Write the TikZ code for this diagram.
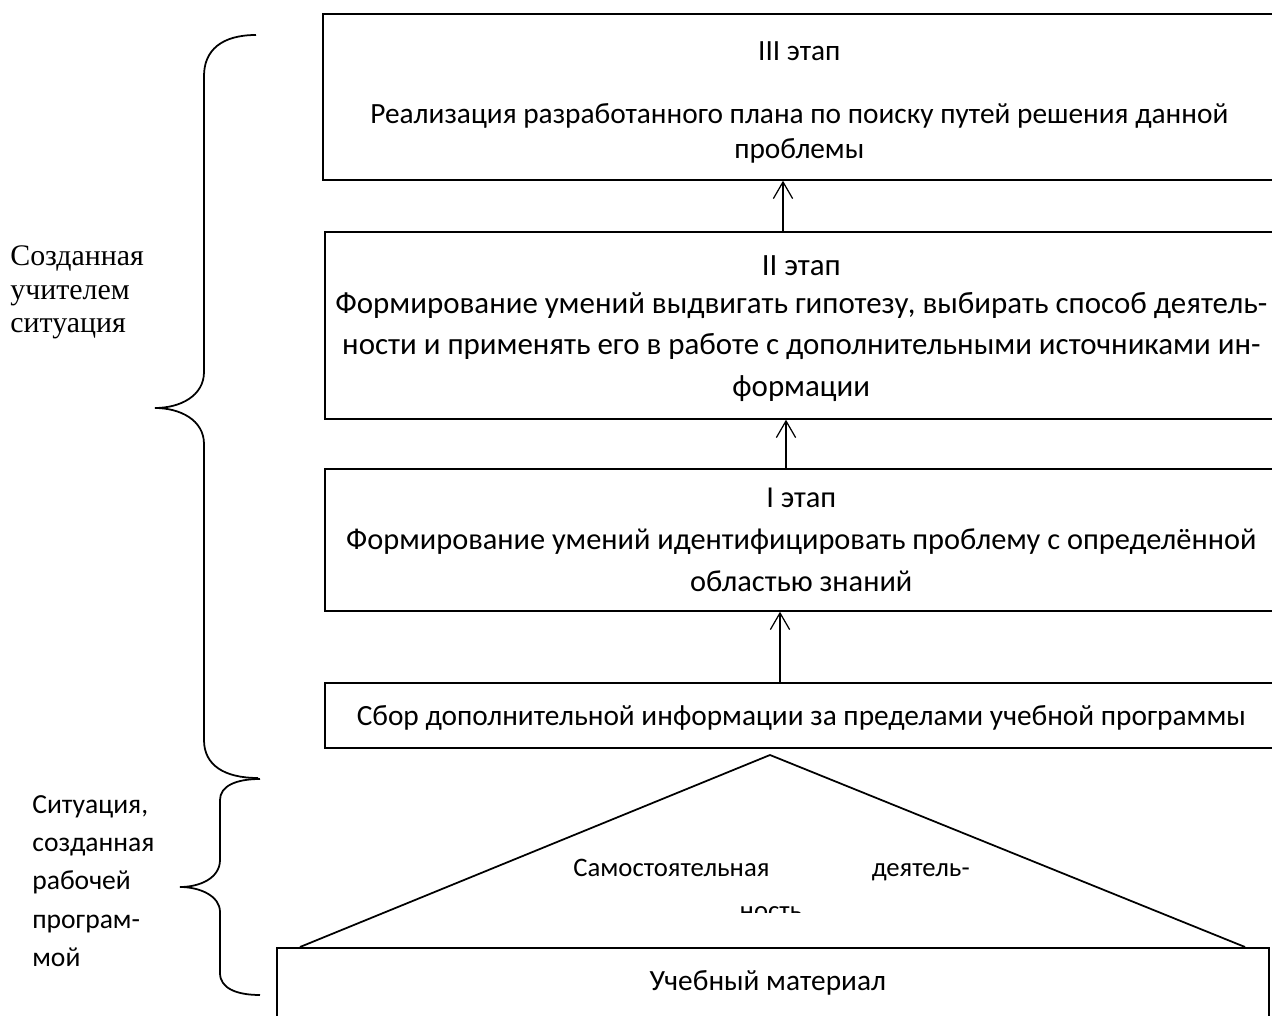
\documentclass[tikz,border=0pt]{standalone}
\usepackage{fontspec}
\setmainfont{Liberation Serif}
\newfontfamily\calibrifont{Carlito}
\usetikzlibrary{arrows.meta,positioning}

\begin{document}
\begin{tikzpicture}[x=0.02cm,y=-0.02cm,
	font=\calibrifont\fontsize{16.7}{23.8}\selectfont,
	every node/.style={inner sep=0pt},
	stage/.style={draw,line width=1pt,anchor=north west,minimum width=19.06cm,align=center},
	up/.style={-{Straight Barb[length=9.5pt,width=11pt]},line width=0.7pt},
	brace/.style={line width=1pt}]

  \useasboundingbox (0,0) rectangle (1272,1016);
  \clip (0,0) rectangle (1272,1016);

  % stages
  \node [stage, minimum height=3.32cm, font=\calibrifont\fontsize{16.7}{19.8}\selectfont] (b1) at (322,13)
    {\rule{0pt}{17pt}III этап\\[16pt]Реализация разработанного плана по поиску путей решения данной\\проблемы};
  \node [stage, minimum height=3.74cm, font=\calibrifont\fontsize{17.6}{23.8}\selectfont] (b2) at (324,231)
    {\rule{0pt}{15pt}II этап\\[-2.3pt]Формирование умений выдвигать гипотезу, выбирать способ деятель-\\
     ности и применять его в работе с дополнительными источниками ин-\\формации};
  \node [stage, minimum height=2.84cm, font=\calibrifont\fontsize{17.3}{23.8}\selectfont] (b3) at (324,468)
    {I этап\\Формирование умений идентифицировать проблему с определённой\\областью знаний};
  \node [stage, minimum height=1.3cm] (b4) at (324,682)
    {\rule{0pt}{14pt}Сбор дополнительной информации за пределами учебной программы};

  \path (783,0) coordinate (ax1) (786,0) coordinate (ax2) (780,0) coordinate (ax3);
  \foreach \lo/\hi/\i in {b2/b1/1, b3/b2/2, b4/b3/3}{
	  \draw [up] (\lo.north -| ax\i) -- (\hi.south -| ax\i);
  }

  % material and roof
  \node [draw, line width=1pt, anchor=north west, minimum width=19.84cm, minimum height=2cm] (mat) at (276,947) {};
  \node [below=0.47cm of mat.north, xshift=-0.1cm] (mattext) {Учебный материал};
  \coordinate (apex) at (770,755);
  \draw [line width=1pt] (300,947) -- (apex) -- (1245,947);
  \begin{scope}[font=\calibrifont\fontsize{15.2}{18}\selectfont]
    \node [anchor=base west] (act1) at (573,876) {Самостоятельная};
    \node [anchor=base east] (act2) at (970,876) {деятель-};
    \clip (0,0) rectangle (1272,912);
    \node [anchor=base] (act3) at (771,919) {ность};
  \end{scope}

  % braces
  \draw [brace] (256,35) .. controls (222,35) and (204,50) .. (204,76) -- (204,372)
    .. controls (204,396) and (180,408) .. (155,408)
    .. controls (180,408) and (204,420) .. (204,444) -- (204,740)
    .. controls (204,765) and (224,778) .. (258,778);
  \draw [brace] (260,779) .. controls (236,779) and (220,786) .. (220,800) -- (220,860)
    .. controls (220,878) and (200,887) .. (180,887)
    .. controls (200,887) and (220,896) .. (220,912) -- (220,973)
    .. controls (220,988) and (236,995) .. (260,995);

  \node [anchor=north west, align=left, font=\rmfamily\fontsize{17}{19.3}\selectfont] (teacher) at (10,245)
    {Созданная\\учителем\\ситуация};
  \node [anchor=north west, align=left, font=\calibrifont\fontsize{15.7}{21.8}\selectfont] (program) at (32,795)
    {Ситуация,\\созданная\\рабочей\\програм-\\мой};

\end{tikzpicture}
\end{document}
